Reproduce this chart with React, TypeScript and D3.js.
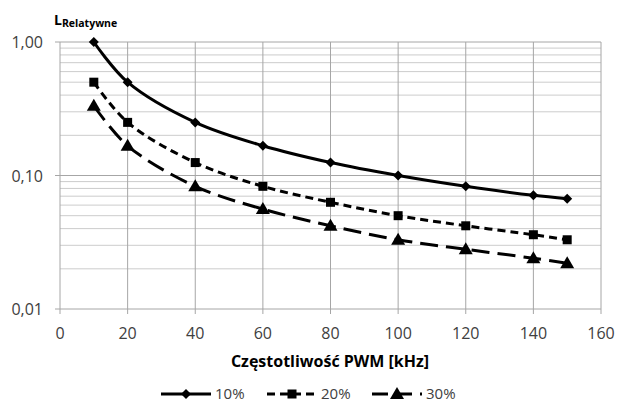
import React from 'react';
import * as d3 from 'd3';

const freqs = [10, 20, 40, 60, 80, 100, 120, 140, 150];
const s10 = [1.0, 0.5, 0.25, 0.167, 0.125, 0.1, 0.083, 0.071, 0.067];
const s20 = [0.5, 0.25, 0.125, 0.083, 0.063, 0.05, 0.042, 0.036, 0.033];
const s30 = [0.333, 0.167, 0.083, 0.056, 0.042, 0.033, 0.028, 0.024, 0.022];
const xTicks = [0, 20, 40, 60, 80, 100, 120, 140, 160];
const yTicks = [1, 0.1, 0.01];
const yTickLabels = ['1,00', '0,10', '0,01'];
const seriesNames = ['10%', '20%', '30%'];

const W = 619;
const H = 403;
const font = 'Open Sans, Liberation Sans, sans-serif';

export default function App() {
  const x = d3.scaleLinear().domain([0, 160]).range([60, 601]);
  const y = d3.scaleLog().domain([0.01, 1]).range([309, 42]);

  // minor log gridlines
  const minor: number[] = [];
  [0.01, 0.1].forEach(d => {
    for (let k = 2; k <= 9; k++) minor.push(d * k);
  });

  const line = d3.line<[number, number]>()
    .x(d => x(d[0]))
    .y(d => y(d[1]))
    .curve(d3.curveCatmullRom.alpha(0.5));

  const series = [
    { name: seriesNames[0], vals: s10, dash: 'none', legendDash: 'none', marker: 'diamond' },
    { name: seriesNames[1], vals: s20, dash: '8,5', legendDash: '8,5', marker: 'square' },
    { name: seriesNames[2], vals: s30, dash: '18,8', legendDash: '16,8', marker: 'triangle' },
  ];

  const marker = (kind: string, cx: number, cy: number, key: any) => {
    if (kind === 'diamond') {
      return <path key={key} d={`M${cx},${cy - 5}L${cx + 5},${cy}L${cx},${cy + 5}L${cx - 5},${cy}Z`} fill="#000" />;
    }
    if (kind === 'square') {
      return <rect key={key} x={cx - 4.5} y={cy - 4.5} width={9} height={9} fill="#000" />;
    }
    return <path key={key} d={`M${cx},${cy - 7}L${cx + 7},${cy + 5}L${cx - 7},${cy + 5}Z`} fill="#000" />;
  };

  const legendX = [161, 267, 372];
  const legendY = 394;

  return (
    <svg width={W} height={H} style={{ position: 'absolute', left: 0, top: 0, background: '#fff' }}>
      <rect width={W} height={H} fill="#fff" />
      {/* gridlines */}
      {minor.map((v, i) => (
        <line key={'m' + i} x1={60} x2={601} y1={y(v)} y2={y(v)} stroke="#cccccc" strokeWidth={1} />
      ))}
      {yTicks.map((v, i) => (
        <line key={'yt' + i} x1={55} x2={601} y1={y(v)} y2={y(v)} stroke="#a6a6a6" strokeWidth={1} />
      ))}
      {xTicks.map((v, i) => (
        <line key={'xt' + i} x1={x(v)} x2={x(v)} y1={42} y2={314} stroke="#a6a6a6" strokeWidth={1} />
      ))}
      {/* tick labels */}
      {yTicks.map((v, i) => (
        <text key={'yl' + i} x={43} y={y(v) + 6} textAnchor="end" fontFamily={font} fontSize={16} fill="#404040">
          {yTickLabels[i]}
        </text>
      ))}
      {xTicks.map((v, i) => (
        <text key={'xl' + i} x={x(v)} y={339} textAnchor="middle" fontFamily={font} fontSize={16} fill="#404040">
          {v}
        </text>
      ))}
      {/* axis titles */}
      <text x={330} y={367} textAnchor="middle" fontFamily={font} fontSize={16} fontWeight="bold" fill="#000">
        Częstotliwość PWM [kHz]
      </text>
      <text x={54} y={25} fontFamily={font} fontWeight="bold" fill="#000">
        <tspan fontSize={14}>L</tspan>
        <tspan fontSize={10.5} dy={2}>Relatywne</tspan>
      </text>
      {/* series */}
      {series.map((s, si) => {
        const pts = freqs.map((f, i) => [f, s.vals[i]] as [number, number]);
        return (
          <g key={'s' + si}>
            <path d={line(pts) || ''} fill="none" stroke="#000" strokeWidth={3} strokeDasharray={s.dash} />
            {pts.map((p, i) => marker(s.marker, x(p[0]), y(p[1]), i))}
          </g>
        );
      })}
      {/* legend */}
      {series.map((s, si) => {
        const lx = legendX[si];
        return (
          <g key={'lg' + si}>
            <line x1={lx} x2={lx + 50} y1={legendY} y2={legendY} stroke="#000" strokeWidth={3}
              strokeDasharray={s.legendDash} />
            {marker(s.marker, lx + 25, legendY, 'lm' + si)}
            <text x={lx + 54} y={legendY + 5} fontFamily={font} fontSize={15} fill="#404040">{s.name}</text>
          </g>
        );
      })}
    </svg>
  );
}
